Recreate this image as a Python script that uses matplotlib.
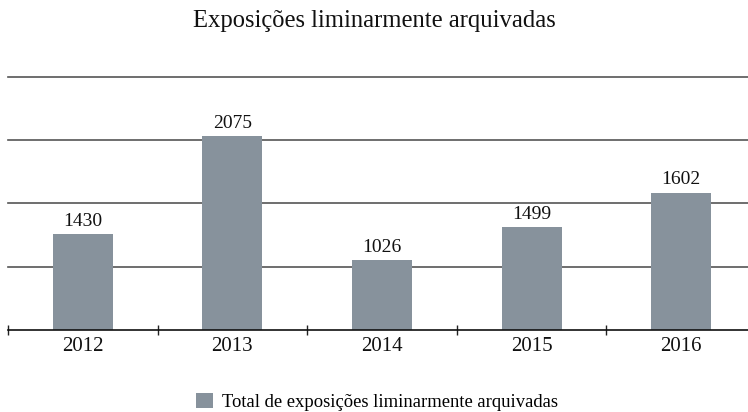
import matplotlib
matplotlib.use("Agg")
import matplotlib.pyplot as plt
from matplotlib.patches import Patch

plt.rcParams['font.family'] = ['Liberation Serif', 'DejaVu Serif']

# dados
years = ['2012', '2013', '2014', '2015', '2016']
value_labels = ['1430', '2075', '1026', '1499', '1602']
# altura das barras (escala do eixo, grelha a cada 500)
bar_heights = [760, 1530, 550, 810, 1085]
grid_values = [500, 1000, 1500, 2000]

title = 'Exposições liminarmente arquivadas'
legend_label = 'Total de exposições liminarmente arquivadas'
bar_color = '#87929c'

fig = plt.figure(figsize=(7.48, 4.12), dpi=100)
ax = fig.add_axes([8 / 748, 1 - 330 / 412, 1.0, (330 - 76.7) / 412])

x = list(range(len(years)))
bars = ax.bar(x, bar_heights, width=0.4, color=bar_color, zorder=3)

for gv in grid_values:
    ax.axhline(gv, color='#555555', lw=1.2, zorder=1, clip_on=False)

for b, lab in zip(bars, value_labels):
    ax.annotate(lab, (b.get_x() + b.get_width() / 2, b.get_height()),
                xytext=(0, 3), textcoords='offset points',
                ha='center', va='bottom', fontsize=14, color='#111111')

ax.set_xlim(-0.5, len(years) - 0.5)
ax.set_ylim(0, 2000)
ax.set_xticks(x)
ax.set_xticklabels(years, fontsize=15, color='#111111')
ax.tick_params(axis='x', which='major', length=0, pad=5)
ax.set_xticks([i - 0.5 for i in x], minor=True)
ax.tick_params(axis='x', which='minor', direction='inout', length=7, width=1, color='#222222')
ax.set_yticks([])
for s in ['left', 'right', 'top']:
    ax.spines[s].set_visible(False)
ax.spines['bottom'].set_color('#111111')
ax.spines['bottom'].set_linewidth(1.2)
ax.spines['bottom'].set_zorder(4)

fig.text(0.5, 1 - 21 / 412, title, ha='center', va='center', fontsize=17.7, color='#111111')

handle = Patch(facecolor=bar_color, edgecolor='none')
fig.legend([handle], [legend_label], loc='center', bbox_to_anchor=(0.504, 1 - 402 / 412),
           frameon=False, fontsize=13.4, handlelength=0.9, handleheight=0.9, handletextpad=0.5)

fig.savefig('out.png', dpi=100)
